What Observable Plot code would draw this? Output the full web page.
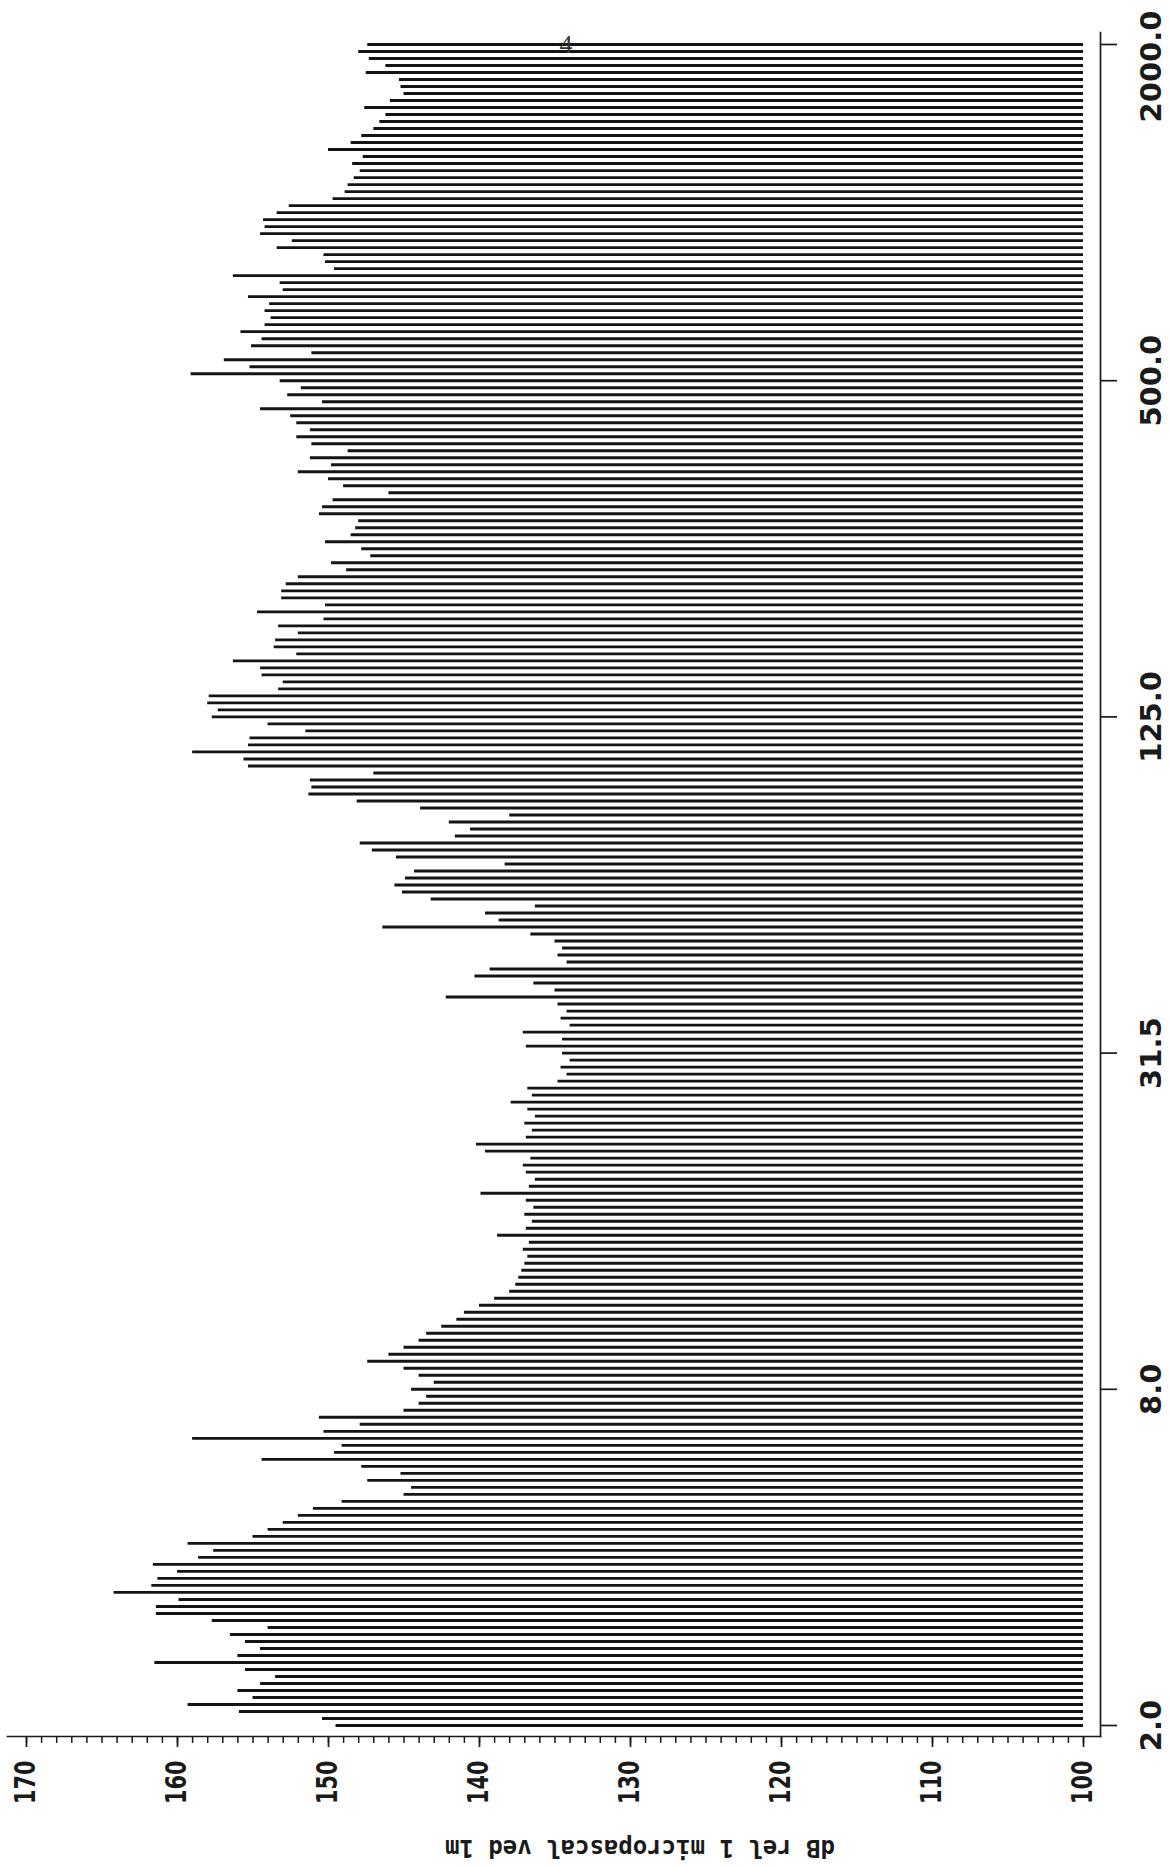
<!DOCTYPE html>
<html>
<head>
<meta charset="utf-8">
<script src="https://cdn.jsdelivr.net/npm/d3@7"></script>
<script src="https://cdn.jsdelivr.net/npm/@observablehq/plot@0.6"></script>
<style>
html, body { margin: 0; padding: 0; background: #ffffff; }
#chart svg { display: block; }
</style>
</head>
<body>
<div id="chart"></div>
<script>
// Level of each 1/24-octave band, from the 2 Hz band (first) to the 2000 Hz band (last), dB rel 1 µPa at 1 m
const levels = [
  149.5, 150.4, 155.9, 159.3, 155.0, 156.0, 154.5, 153.5, 155.5, 161.5,
  156.0, 154.5, 155.5, 156.5, 154.0, 157.7, 161.4, 161.4, 159.9, 164.2,
  161.7, 161.3, 160.0, 161.6, 158.6, 157.6, 159.3, 155.0, 154.0, 153.0,
  152.0, 151.0, 149.1, 145.0, 144.5, 147.4, 145.2, 147.8, 154.4, 149.6,
  149.1, 159.0, 150.3, 147.9, 150.6, 145.0, 144.0, 143.5, 144.5, 143.0,
  144.0, 145.0, 147.4, 146.0, 145.0, 144.0, 143.5, 142.5, 141.5, 141.0,
  140.0, 139.0, 138.0, 137.6, 137.4, 137.2, 137.0, 136.8, 137.1, 136.7,
  138.8, 136.9, 136.5, 137.0, 136.4, 136.9, 139.9, 136.7, 136.3, 136.9,
  137.1, 136.6, 139.6, 140.2, 136.9, 136.5, 137.0, 136.3, 136.8, 137.9,
  136.5, 136.8, 134.8, 134.2, 134.6, 134.0, 134.5, 136.9, 134.5, 137.1,
  134.0, 134.6, 134.2, 134.8, 142.2, 135.0, 136.4, 140.3, 139.3, 134.2,
  134.8, 134.5, 135.0, 136.6, 146.4, 138.7, 139.6, 136.3, 143.2, 145.1,
  145.6, 144.9, 144.3, 138.3, 145.5, 147.1, 147.9, 141.6, 140.6, 142.0,
  138.0, 143.9, 148.1, 151.3, 151.1, 151.2, 147.0, 155.3, 155.6, 159.0,
  155.3, 155.2, 151.5, 154.0, 157.7, 157.3, 158.0, 157.9, 153.3, 153.0,
  154.4, 154.5, 156.3, 152.1, 153.6, 153.5, 152.0, 153.3, 150.3, 154.7,
  150.2, 153.1, 153.1, 152.8, 152.0, 148.8, 149.8, 147.2, 147.8, 150.2,
  148.5, 148.2, 148.0, 150.6, 150.4, 149.7, 146.0, 149.0, 150.0, 152.0,
  149.8, 151.2, 148.7, 151.1, 152.1, 151.2, 152.1, 152.5, 154.5, 150.4,
  152.7, 151.8, 153.2, 159.1, 155.2, 156.9, 151.1, 155.1, 154.4, 155.8,
  154.2, 153.8, 154.2, 153.9, 155.3, 153.0, 153.2, 156.3, 149.6, 150.2,
  150.3, 153.4, 152.4, 154.5, 154.2, 154.3, 153.4, 152.6, 149.7, 148.9,
  148.7, 148.3, 147.9, 148.4, 147.7, 150.0, 148.5, 147.8, 147.0, 146.6,
  146.2, 147.6, 145.9, 145.0, 145.2, 145.3, 147.5, 146.2, 147.3, 148.0,
  147.4
];

// Frequency axis: band positions that carry a label, and their labels (Hz)
const freqTickBands = [0, 48, 96, 144, 192, 240];
const freqTickLabels = ["2.0", "8.0", "31.5", "125.0", "500.0", "2000.0"];

// Level axis ticks (dB)
const dbMajorTicks = [100, 110, 120, 130, 140, 150, 160, 170];
const dbMinorTicks = d3.range(100, 171, 1);

const axisTitle = "dB rel 1 micropascal ved 1m";
const pageNumber = "4";

const rows = levels.map((db, band) => ({band, db}));
const labelOf = new Map(freqTickBands.map((b, k) => [b, freqTickLabels[k]]));
const lastBand = freqTickBands[freqTickBands.length - 1];
const innerFreqTicks = freqTickBands.filter(b => b !== lastBand);

const freqLabelStyle = {
  anchor: "right", tickSize: 0, tickFormat: d => labelOf.get(d),
  tickRotate: -90, textAnchor: "middle", lineAnchor: "top",
  tickPadding: 40, fontSize: 29, fontWeight: "bold", label: null
};

const chart = Plot.plot({
  width: 1170,
  height: 1867,
  marginLeft: 7,
  marginRight: 70,
  marginTop: 32,
  marginBottom: 131,
  style: {background: "#ffffff", color: "#1a1a1a", fontFamily: "DejaVu Sans"},
  x: {domain: [170, 100], insetLeft: 19, insetRight: 17},
  y: {domain: [0, 240], insetTop: 12, insetBottom: 11},
  marks: [
    Plot.ruleY(rows, {y: "band", x1: 100, x2: "db", stroke: "#141414", strokeWidth: 2.9}),
    Plot.frame({anchor: "bottom", stroke: "#1a1a1a", strokeWidth: 1.7}),
    Plot.frame({anchor: "right", stroke: "#1a1a1a", strokeWidth: 1.7}),
    Plot.axisX(dbMinorTicks, {tickSize: 7, tickFormat: () => "", label: null, strokeWidth: 1.5}),
    Plot.axisX(dbMajorTicks, {
      tickSize: 11, tickRotate: -90, textAnchor: "end", lineAnchor: "middle",
      tickPadding: 13, fontSize: 28, fontWeight: "bold", label: null, strokeWidth: 1.7
    }),
    // frequency ticks
    Plot.axisY(freqTickBands, {anchor: "right", tickSize: 16, tickFormat: () => "", label: null, strokeWidth: 1.7}),
    // frequency labels (the top one is nudged down to stay on the page, as in the original)
    Plot.axisY(innerFreqTicks, freqLabelStyle),
    Plot.axisY([lastBand], {...freqLabelStyle, dy: 22}),
    Plot.text([axisTitle], {
      frameAnchor: "bottom", rotate: 180, dx: 86, dy: 103,
      fontSize: 24, fontWeight: "bold", fontFamily: "DejaVu Sans Mono", fill: "#1a1a1a"
    }),
    Plot.text([pageNumber], {
      frameAnchor: "top", dx: 12, dy: 2,
      fontSize: 26, fontFamily: "Liberation Serif", fill: "#333"
    })
  ]
});

// narrow, tall plotter-style digits on the level axis
chart.querySelectorAll('g[aria-label="x-axis tick label"] text').forEach(t => {
  const s = t.textContent.trim();
  if (s.length) {
    t.setAttribute("textLength", String(14.5 * s.length));
    t.setAttribute("lengthAdjust", "spacingAndGlyphs");
  }
});

document.getElementById("chart").appendChild(chart);
</script>
</body>
</html>
